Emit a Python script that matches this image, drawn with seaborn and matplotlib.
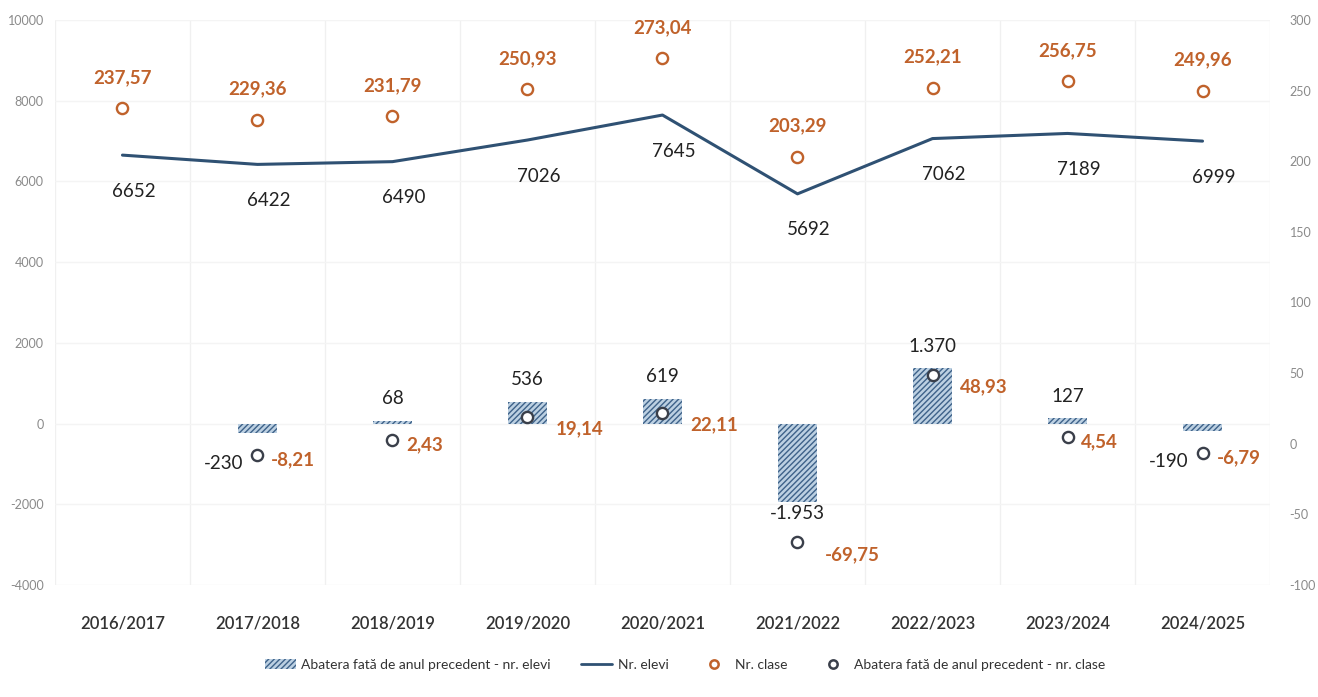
import numpy as np
import pandas as pd
import matplotlib.pyplot as plt
import matplotlib.patches as mpatches
import matplotlib.lines as mlines
import seaborn as sns

# -------------------------------
# Data
# -------------------------------

years = ["2016/2017", "2017/2018", "2018/2019", "2019/2020", "2020/2021",
         "2021/2022", "2022/2023", "2023/2024", "2024/2025"]
nr_elevi = [6652, 6422, 6490, 7026, 7645, 5692, 7062, 7189, 6999]
nr_clase = [237.57, 229.36, 231.79, 250.93, 273.04, 203.29, 252.21, 256.75, 249.96]
abatere_elevi = [np.nan, -230, 68, 536, 619, -1953, 1370, 127, -190]
abatere_clase = [np.nan, -8.21, 2.43, 19.14, 22.11, -69.75, 48.93, 4.54, -6.79]

left_ticks = [10000, 8000, 6000, 4000, 2000, 0, -2000, -4000]
right_ticks = [300, 250, 200, 150, 100, 50, 0, -50, -100]

df = pd.DataFrame({
    "an": years,
    "x": np.arange(len(years)),
    "elevi": nr_elevi,
    "clase": nr_clase,
    "ab_elevi": abatere_elevi,
    "ab_clase": abatere_clase,
})

# -------------------------------
# Style
# -------------------------------

sns.set_theme(style="white")
plt.rcParams["font.family"] = ["Lato", "DejaVu Sans"]
plt.rcParams["axes.unicode_minus"] = False

LINE_C = "#2F5173"
ORANGE = "#C0622B"
BAR_FACE = "#BCD0E2"
BAR_HATCH = "#3E6289"
DARK = "#222222"

fig = plt.figure(figsize=(13.18, 6.97), dpi=100)
ax = fig.add_axes([0.0417, 0.1607, 0.9219, 0.8106])
ax2 = ax.twinx()

# -------------------------------
# Bars: deviation of pupils
# -------------------------------

plt.rcParams["hatch.linewidth"] = 1.0
sns.barplot(data=df, x="an", y="ab_elevi", ax=ax, width=0.29,
            color=BAR_FACE, saturation=1, zorder=2)
for p in ax.patches:
    p.set_hatch("//////")
    p.set_edgecolor(BAR_HATCH)
    p.set_linewidth(0)
    p.set_facecolor(BAR_FACE)

# line: number of pupils
sns.lineplot(data=df, x="x", y="elevi", ax=ax, color=LINE_C, lw=2.2, zorder=3)

ax.set_xlim(-0.5, len(years) - 0.5)
ax.set_ylim(-4000, 10000)
ax.set_yticks(left_ticks)
ax.set_xlabel("")
ax.set_ylabel("")
ax.set_xticks(df["x"])
ax.set_xticklabels(years, fontsize=12, color="#333333", fontweight="semibold")
ax.tick_params(axis="x", pad=22, length=0)
ax.tick_params(axis="y", labelsize=9, labelcolor="#8a8a8a", length=0, pad=8)
ax.set_xticks(np.arange(len(years) + 1) - 0.5, minor=True)
ax.grid(which="minor", axis="x", color="#f0f0f0", lw=1)
ax.grid(which="major", axis="y", color="#f4f4f4", lw=1)

# -------------------------------
# Right axis: classes
# -------------------------------

sns.scatterplot(data=df, x="x", y="clase", ax=ax2, s=65, marker="o",
                facecolor="white", edgecolor=ORANGE, linewidth=1.7, zorder=4)
sns.scatterplot(data=df.dropna(), x="x", y="ab_clase", ax=ax2, s=65, marker="o",
                facecolor="white", edgecolor="#3a3f4a", linewidth=1.7, zorder=5)
ax2.set_ylim(-100, 300)
ax2.set_yticks(right_ticks)
ax2.set_ylabel("")
ax2.tick_params(axis="y", labelsize=9, labelcolor="#8a8a8a", length=0, pad=14)
ax2.grid(False)

for a in (ax, ax2):
    for s in a.spines.values():
        s.set_visible(False)

# -------------------------------
# Data labels
# -------------------------------

for i, v in enumerate(nr_elevi):
    ax.annotate(str(v), (i, v), xytext=(8, -26), textcoords="offset points",
                ha="center", va="center", fontsize=13.5, color=DARK)

for i, v in enumerate(nr_clase):
    ax2.annotate(f"{v:.2f}".replace(".", ","), (i, v), xytext=(0, 22),
                 textcoords="offset points", ha="center", va="center",
                 fontsize=13.5, color=ORANGE, fontweight="bold")


def fmt_thousands(v):
    return f"{int(v):,}".replace(",", ".")


for i, (ve, vc) in enumerate(zip(abatere_elevi, abatere_clase)):
    if np.isnan(ve):
        continue
    if ve >= 0:
        ax.annotate(fmt_thousands(ve), (i, ve), xytext=(0, 16),
                    textcoords="offset points", ha="center", va="center",
                    fontsize=13.5, color=DARK)
    elif ve < -1000:
        ax.annotate(fmt_thousands(ve), (i, ve), xytext=(0, -8),
                    textcoords="offset points", ha="center", va="center",
                    fontsize=13.5, color=DARK)
    else:
        ax2.annotate(fmt_thousands(ve), (i, vc), xytext=(-10, -6),
                     textcoords="offset points", ha="right", va="center",
                     fontsize=13.5, color=DARK)
    # push the class label past the bar when the bar is wide enough to cover it
    dx, dy = (20, -9) if abs(ve) > 300 else (10, -3)
    ax2.annotate(f"{vc:.2f}".replace(".", ","), (i, vc), xytext=(dx, dy),
                 textcoords="offset points", ha="left", va="center",
                 fontsize=13.5, color=ORANGE, fontweight="bold")

# -------------------------------
# Legend
# -------------------------------

h1 = mpatches.Patch(facecolor=BAR_FACE, edgecolor=BAR_HATCH, hatch="//////", lw=0,
                    label="Abatera fată de anul precedent - nr. elevi")
h2 = mlines.Line2D([], [], color=LINE_C, lw=2, label="Nr. elevi")
h3 = mlines.Line2D([], [], color=ORANGE, marker="o", ls="", markersize=6,
                   markerfacecolor="white", markeredgewidth=1.8, label="Nr. clase")
h4 = mlines.Line2D([], [], color="#3a3f4a", marker="o", ls="", markersize=6,
                   markerfacecolor="white", markeredgewidth=1.8,
                   label="Abatera fată de anul precedent - nr. clase")
fig.legend(handles=[h1, h2, h3, h4], loc="center", bbox_to_anchor=(0.52, 0.046),
           ncol=4, frameon=False, fontsize=10, handlelength=2.2,
           columnspacing=2.2, handletextpad=0.4, labelcolor="#333333")

fig.savefig("out.png", dpi=100)
plt.close(fig)
